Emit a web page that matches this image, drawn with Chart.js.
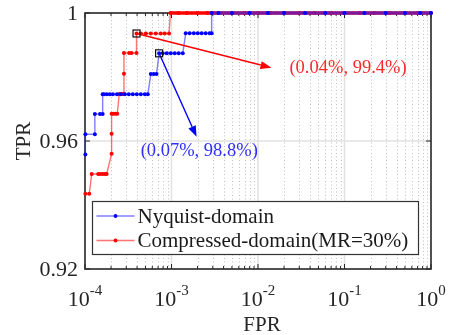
<!DOCTYPE html>
<html lang="en">
  <head>
    <meta charset="UTF-8" />
    <title>ROC</title>
    <script src="https://cdn.jsdelivr.net/npm/chart.js"></script>
    <style>
      html, body { margin: 0; padding: 0; background: #fff; }
      canvas { display: block; }
    </style>
  </head>
  <body>
    <canvas id="roc" width="453" height="335"></canvas>

    <script>
      // values
      const blueFpr = [
        1.01e-4, 1.01e-4, 1.3e-4, 1.3e-4, 1.49e-4, 1.6e-4, 1.6e-4, 1.66e-4, 1.79e-4, 1.94e-4,
        2.1e-4, 2.34e-4, 2.6e-4, 2.89e-4, 3.21e-4, 3.57e-4, 3.97e-4, 4.42e-4, 4.92e-4, 5.32e-4,
        5.77e-4, 6.24e-4, 6.71e-4, 7.19e-4, 7.93e-4, 8.82e-4, 9.8e-4, 1.09e-3, 1.21e-3, 1.35e-3,
        1.46e-3, 1.62e-3, 1.81e-3, 2.01e-3, 2.23e-3, 2.48e-3, 2.76e-3, 2.91e-3, 2.91e-3,
        3.5e-3, 5e-3, 8e-3, 1.3e-2, 2e-2, 3.5e-2, 6e-2, 0.1, 0.17, 0.3, 0.5, 0.75, 1
      ];
      const blueTpr = [
        0.9558, 0.9621, 0.9621, 0.9684, 0.9684, 0.9684, 0.9746, 0.9746, 0.9746, 0.9746,
        0.9746, 0.9746, 0.9746, 0.9746, 0.9746, 0.9746, 0.9746, 0.9746, 0.9746, 0.9746,
        0.9809, 0.9809, 0.9809, 0.9874, 0.9874, 0.9874, 0.9874, 0.9874, 0.9874, 0.9874,
        0.9937, 0.9937, 0.9937, 0.9937, 0.9937, 0.9937, 0.9937, 0.9937, 1,
        1, 1, 1, 1, 1, 1, 1, 1, 1, 1, 1, 1, 1
      ];

      const redFpr = [
        1.01e-4, 1.12e-4, 1.195e-4, 1.42e-4, 1.5e-4, 1.6e-4, 1.7e-4, 1.78e-4, 2.03e-4, 2.03e-4,
        2.03e-4, 2.13e-4, 2.25e-4, 2.36e-4, 2.49e-4, 2.65e-4, 2.82e-4, 2.82e-4, 2.82e-4, 3.24e-4,
        3.45e-4, 3.94e-4, 3.94e-4, 4.42e-4, 5.05e-4, 5.77e-4, 6.58e-4, 7.52e-4, 8.36e-4, 9.37e-4,
        9.72e-4, 1.2e-3, 1.5e-3, 2e-3, 2.6e-3, 3.5e-3, 5e-3, 7e-3, 1e-2, 1.4e-2,
        2e-2, 3e-2, 4.5e-2, 7e-2, 0.1, 0.15, 0.22, 0.33, 0.5, 0.7, 1
      ];
      const redTpr = [
        0.9435, 0.9435, 0.9497, 0.9497, 0.9497, 0.9497, 0.9497, 0.9497, 0.956, 0.9623,
        0.9685, 0.9685, 0.9685, 0.9685, 0.9747, 0.9747, 0.9747, 0.981, 0.9875, 0.9875,
        0.9875, 0.9875, 0.9936, 0.9936, 0.9936, 0.9936, 0.9936, 0.9936, 0.9936, 0.9936,
        1, 1, 1, 1, 1, 1, 1, 1, 1, 1,
        1, 1, 1, 1, 1, 1, 1, 1, 1, 1, 1
      ];

      const seriesNames = ['Nyquist-domain', 'Compressed-domain(MR=30%)'];
      const xDecades = [1e-4, 1e-3, 1e-2, 1e-1, 1];
      const xExponents = ['-4', '-3', '-2', '-1', '0'];
      const yTicks = [0.92, 0.96, 1];
      const yTickLabels = ['0.92', '0.96', '1'];

      // annotation: marked point, arrow tip, text anchor (data units)
      const redNote = { point: [3.94e-4, 0.9936], tip: [1.43e-2, 0.9829], at: [2.31e-2, 0.9828], text: '(0.04%, 99.4%)' };
      const blueNote = { point: [7.19e-4, 0.9874], tip: [1.95e-3, 0.9613], at: [4.4e-4, 0.9567], text: '(0.07%, 98.8%)' };

      const BLUE = '#0000ff';
      const RED = '#ff0000';
      const SERIF = '"Liberation Serif", "Times New Roman", serif';

      function toPoints(xs, ys) {
        return xs.map((x, i) => ({ x: x, y: ys[i] }));
      }

      function minorTicks() {
        const out = [];
        for (let d = 0; d < xDecades.length - 1; d++) {
          for (let k = 2; k <= 9; k++) out.push(xDecades[d] * k);
        }
        return out;
      }

      // the run along TPR = 1 is packed with markers in the original, so draw it heavier
      const topRunWidth = ctx => (ctx.p0.parsed.y === 1 && ctx.p1.parsed.y === 1 ? 3.6 : undefined);

      const axesPlugin = {
        id: 'axesPlugin',
        beforeDatasetsDraw(chart) {
          const { ctx, chartArea: a, scales } = chart;
          const xs = scales.x, ys = scales.y;
          ctx.save();

          // dotted minor grid
          ctx.strokeStyle = 'rgba(140,140,140,0.55)';
          ctx.lineWidth = 1;
          ctx.setLineDash([1, 2.5]);
          minorTicks().forEach(v => {
            const px = Math.round(xs.getPixelForValue(v)) + 0.5;
            ctx.beginPath();
            ctx.moveTo(px, a.top);
            ctx.lineTo(px, a.bottom);
            ctx.stroke();
          });
          ctx.setLineDash([]);

          // solid major grid
          ctx.strokeStyle = '#e2e2e2';
          ctx.lineWidth = 1.5;
          xDecades.slice(1, -1).forEach(v => {
            const px = xs.getPixelForValue(v);
            ctx.beginPath();
            ctx.moveTo(px, a.top);
            ctx.lineTo(px, a.bottom);
            ctx.stroke();
          });
          yTicks.slice(1, -1).forEach(v => {
            const py = ys.getPixelForValue(v);
            ctx.beginPath();
            ctx.moveTo(a.left, py);
            ctx.lineTo(a.right, py);
            ctx.stroke();
          });

          // box
          ctx.strokeStyle = '#262626';
          ctx.lineWidth = 1.6;
          ctx.strokeRect(a.left, a.top, a.right - a.left, a.bottom - a.top);

          // inward ticks
          ctx.lineWidth = 1;
          ctx.beginPath();
          xDecades.forEach(v => {
            const px = xs.getPixelForValue(v);
            ctx.moveTo(px, a.bottom); ctx.lineTo(px, a.bottom - 5);
            ctx.moveTo(px, a.top); ctx.lineTo(px, a.top + 5);
          });
          minorTicks().forEach(v => {
            const px = xs.getPixelForValue(v);
            ctx.moveTo(px, a.bottom); ctx.lineTo(px, a.bottom - 3);
            ctx.moveTo(px, a.top); ctx.lineTo(px, a.top + 3);
          });
          yTicks.forEach(v => {
            const py = ys.getPixelForValue(v);
            ctx.moveTo(a.left, py); ctx.lineTo(a.left + 5, py);
            ctx.moveTo(a.right, py); ctx.lineTo(a.right - 5, py);
          });
          ctx.stroke();

          // tick labels
          ctx.fillStyle = '#262626';
          ctx.font = '22px ' + SERIF;
          ctx.textAlign = 'right';
          ctx.textBaseline = 'middle';
          yTicks.forEach((v, i) => {
            ctx.fillText(yTickLabels[i], a.left - 7, ys.getPixelForValue(v) + 1);
          });

          ctx.textAlign = 'left';
          ctx.textBaseline = 'alphabetic';
          xDecades.forEach((v, i) => {
            ctx.font = '22px ' + SERIF;
            const wb = ctx.measureText('10').width;
            ctx.font = '15px ' + SERIF;
            const we = ctx.measureText(xExponents[i]).width;
            const left = xs.getPixelForValue(v) - (wb + we) / 2;
            ctx.font = '22px ' + SERIF;
            ctx.fillText('10', left, a.bottom + 37);
            ctx.font = '15px ' + SERIF;
            ctx.fillText(xExponents[i], left + wb, a.bottom + 26);
          });

          // axis titles
          ctx.font = '21px ' + SERIF;
          ctx.textAlign = 'center';
          ctx.textBaseline = 'middle';
          ctx.fillText('FPR', (a.left + a.right) / 2 + 4, a.bottom + 56);
          ctx.translate(24, (a.top + a.bottom) / 2);
          ctx.rotate(-Math.PI / 2);
          ctx.fillText('TPR', 0, 0);
          ctx.restore();
        },

        afterDatasetsDraw(chart) {
          const { ctx, scales } = chart;
          const xs = scales.x, ys = scales.y;
          const px = p => [xs.getPixelForValue(p[0]), ys.getPixelForValue(p[1])];
          ctx.save();

          [[redNote, RED, '#ff2a2a'], [blueNote, BLUE, '#2f2fff']].forEach(([note, col, textCol]) => {
            const [x0, y0] = px(note.point);
            const [x1, y1] = px(note.tip);
            const ang = Math.atan2(y1 - y0, x1 - x0);
            const headLen = 11, headW = 4;
            const bx = x1 - headLen * Math.cos(ang), by = y1 - headLen * Math.sin(ang);

            ctx.strokeStyle = col;
            ctx.lineWidth = 1.4;
            ctx.beginPath();
            ctx.moveTo(x0, y0);
            ctx.lineTo(bx, by);
            ctx.stroke();

            ctx.fillStyle = col;
            ctx.beginPath();
            ctx.moveTo(x1, y1);
            ctx.lineTo(bx + headW * Math.sin(ang), by - headW * Math.cos(ang));
            ctx.lineTo(bx - headW * Math.sin(ang), by + headW * Math.cos(ang));
            ctx.closePath();
            ctx.fill();

            ctx.strokeStyle = '#111';
            ctx.lineWidth = 1.2;
            ctx.strokeRect(x0 - 3.5, y0 - 3.5, 7, 7);

            const [tx, ty] = px(note.at);
            ctx.fillStyle = textCol;
            ctx.font = '18.5px ' + SERIF;
            ctx.textAlign = 'left';
            ctx.textBaseline = 'middle';
            ctx.fillText(note.text, tx, ty);
          });

          // legend inside the axes
          const L = { x: 92.5, y: 201.5, w: 326, h: 53 };
          ctx.fillStyle = '#fff';
          ctx.fillRect(L.x, L.y, L.w, L.h);
          ctx.strokeStyle = '#333';
          ctx.lineWidth = 1.2;
          ctx.strokeRect(L.x, L.y, L.w, L.h);

          chart.data.datasets.forEach((ds, i) => {
            const yy = L.y + 14.5 + i * 24.5;
            ctx.strokeStyle = ds.borderColor;
            ctx.lineWidth = 1.3;
            ctx.beginPath();
            ctx.moveTo(L.x + 4, yy);
            ctx.lineTo(L.x + 42, yy);
            ctx.stroke();
            ctx.fillStyle = ds.pointBackgroundColor;
            ctx.beginPath();
            ctx.arc(L.x + 23, yy, 1.9, 0, Math.PI * 2);
            ctx.fill();
            ctx.fillStyle = '#1a1a1a';
            ctx.font = '21px ' + SERIF;
            ctx.textAlign = 'left';
            ctx.textBaseline = 'middle';
            ctx.fillText(ds.label, L.x + 45, yy + 1);
          });
          ctx.restore();
        }
      };

      new Chart(document.getElementById('roc').getContext('2d'), {
        type: 'line',
        data: {
          datasets: [
            {
              label: seriesNames[0],
              data: toPoints(blueFpr, blueTpr),
              borderColor: 'rgba(40,40,255,0.6)',
              pointBackgroundColor: BLUE,
              pointBorderWidth: 0,
              pointRadius: 2,
              borderWidth: 1.4,
              clip: false,
              segment: { borderWidth: topRunWidth },
            },
            {
              label: seriesNames[1],
              data: toPoints(redFpr, redTpr),
              borderColor: 'rgba(255,40,40,0.65)',
              pointBackgroundColor: RED,
              pointBorderWidth: 0,
              pointRadius: 2,
              borderWidth: 1.4,
              clip: false,
              segment: {
                borderWidth: topRunWidth,
                borderColor: ctx => (ctx.p0.parsed.y === 1 && ctx.p1.parsed.y === 1 ? RED : undefined),
              },
            },
          ],
        },
        options: {
          responsive: false,
          animation: false,
          devicePixelRatio: 1,
          layout: { padding: { left: 85, right: 22, top: 13, bottom: 66 } },
          scales: {
            x: { type: 'logarithmic', min: 1e-4, max: 1, display: false },
            y: { type: 'linear', min: 0.92, max: 1, display: false },
          },
          plugins: {
            legend: { display: false },
            tooltip: { enabled: false },
          },
        },
        plugins: [axesPlugin],
      });
    </script>
  </body>
</html>
